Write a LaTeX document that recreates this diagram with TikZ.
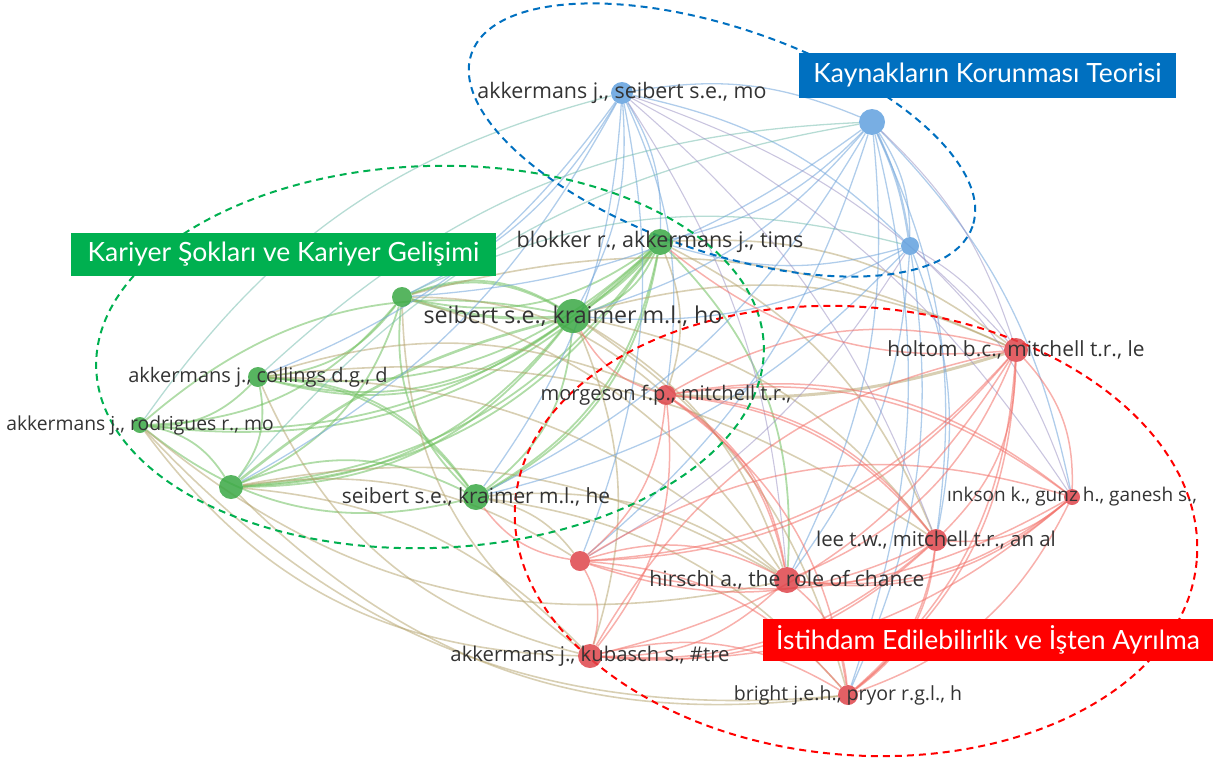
\documentclass[tikz,border=0pt]{standalone}
\usepackage{fontspec}
\setmainfont{Open Sans}
\newfontfamily\boxfont{Lato}
\usetikzlibrary{backgrounds}

\definecolor{gnode}{RGB}{58,168,68}
\definecolor{rnode}{RGB}{222,68,74}
\definecolor{bnode}{RGB}{96,160,222}
\definecolor{gline}{RGB}{112,192,96}
\definecolor{rline}{RGB}{242,112,104}
\definecolor{bline}{RGB}{112,164,218}
\definecolor{oline}{RGB}{178,160,104}
\definecolor{pline}{RGB}{150,140,192}
\definecolor{tline}{RGB}{110,185,170}
\definecolor{txtgray}{RGB}{51,51,51}
\definecolor{boxblue}{RGB}{0,112,192}
\definecolor{boxgreen}{RGB}{0,176,80}
\definecolor{boxred}{RGB}{255,0,0}

\tikzset{
    gdot/.style={circle, inner sep=0pt, fill=gnode, fill opacity=.85, minimum size=#1},
    rdot/.style={circle, inner sep=0pt, fill=rnode, fill opacity=.85, minimum size=#1},
    bdot/.style={circle, inner sep=0pt, fill=bnode, fill opacity=.85, minimum size=#1},
    lbl/.style={text=txtgray, inner sep=0pt, font=\fontsize{#1}{24}\selectfont},
    lbl/.default=20.5,
    ge/.style={gline, line width=1.8pt, opacity=.55},
    re/.style={rline, line width=1.5pt, opacity=.55},
    be/.style={bline, line width=1.3pt, opacity=.55},
    oe/.style={oline, line width=1.6pt, opacity=.5},
    pe/.style={pline, line width=1.1pt, opacity=.5},
    te/.style={tline, line width=1.3pt, opacity=.5},
    cluster/.style={dash pattern=on 7pt off 5pt, line width=2pt},
    tagbox/.style={text=white, inner sep=0pt, font=\boxfont\fontsize{26.5}{30}\selectfont},
}

\begin{document}
\begin{tikzpicture}[x=1pt, y=-1pt]
    \useasboundingbox (0,0) rectangle (1213,758);

    % kümeler
    \draw [cluster, boxblue, rotate around={-19:(722,140)}]
        (722,140) ellipse [x radius=265, y radius=112];
    \draw [cluster, boxgreen, rotate around={2:(430,357)}]
        (430,357) ellipse [x radius=334, y radius=191];
    \draw [cluster, boxred, rotate around={-5:(856,531)}]
        (856,531) ellipse [x radius=342, y radius=224];

    % mavi
    \node [bdot=22, label={[lbl=21.4]center:akkermans j., seibert s.e., mo}] (a1) at (622,93) {};
    \node [bdot=26] (b2) at (872,122) {};
    \node [bdot=18] (b3) at (910,246) {};
    % yeşil
    \node [gdot=26, label={[lbl=21.5]center:blokker r., akkermans j., tims}] (g1) at (660,242) {};
    \node [gdot=20] (g2) at (402,297) {};
    \node [gdot=34, label={[lbl=23.2]center:seibert s.e., kraimer m.l., ho}] (g3) at (573,316) {};
    \node [gdot=20, label={[lbl=20]center:akkermans j., collings d.g., d}] (g4) at (258,377) {};
    \node [gdot=16, label={[lbl=19.3]center:akkermans j., rodrigues r., mo}] (g5) at (140,425) {};
    \node [gdot=24] (g6) at (231,487) {};
    \node [gdot=26, label={[lbl=20.9]center:seibert s.e., kraimer m.l., he}] (g7) at (476,497) {};
    % kırmızı
    \node [rdot=20, label={[lbl=20.1]center:morgeson f.p., mitchell t.r.,}] (r1) at (666,395) {};
    \node [rdot=24, label={[lbl=20.9]center:holtom b.c., mitchell t.r., le}] (r2) at (1016,350) {};
    \node [rdot=16, label={[lbl=19]center:ınkson k., gunz h., ganesh s.,}] (r3) at (1072,497) {};
    \node [rdot=22, label={[lbl=20.4]center:lee t.w., mitchell t.r., an al}] (r4) at (936,540) {};
    \node [rdot=20] (r5) at (580,561) {};
    \node [rdot=26, label={[lbl=21.1]center:hirschi a., the role of chance}] (r6) at (787,580) {};
    \node [rdot=24, label={[lbl=20.3]center:akkermans j., kubasch s., \#tre}] (r7) at (590,656) {};
    \node [rdot=20, label={[lbl=19.5]center:bright j.e.h., pryor r.g.l., h}] (r8) at (848,695) {};

    \begin{scope}[on background layer]
        %% bağlantılar
        \foreach \a/\b in {g1/g2, g1/g3, g1/g4, g1/g6, g1/g7, g2/g3, g2/g4, g2/g5, g2/g6,
                g3/g4, g3/g6, g3/g7, g4/g5, g4/g6, g4/g7, g5/g6, g6/g7, g1/r6, g1/g5} {
            \draw [ge] (\a) to [bend left=24] (\b);
        }
        \foreach \a/\b in {g2/g7, g3/g5, g5/g7, g6/g1, g4/g3, g7/g1, g5/g1, g6/g3, g3/g2, g7/g4} {
            \draw [ge] (\a) to [bend right=26] (\b);
        }
        \draw [ge, line width=3pt] (g3) to [bend right=8] (g1);
        \draw [ge, line width=3pt] (g3) to [bend left=10] (g2);
        \draw [ge, line width=2.6pt] (g6) to [bend left=12] (g3);
        \foreach \a/\b in {g3/r2, g2/r2, g4/r1, g6/r5, g6/r7, g7/r6, g3/r6, g1/r4, g2/r6, g4/r6,
                g7/r5, g1/r1, g1/r2, g3/r4, g3/r8, g7/r8, g6/r6, g2/r1, g4/r4, g3/r7} {
            \draw [oe] (\a) to [bend left=20] (\b);
        }
        \foreach \a/\b in {g5/r8, g6/r8, g4/r7, g5/r7, g5/r6, g2/r7} {
            \draw [oe] (\a) to [bend right=26] (\b);
        }
        \draw [oe, line width=3pt] (r1) to [bend right=10] (r2);
        \foreach \a/\b in {a1/b2, a1/b3, b2/b3, a1/g1, a1/g3, a1/g7, a1/g2, a1/g6, a1/r1, a1/r5,
                b2/g1, b2/g3, b2/g7, b2/r4, b2/r6, b2/r8, b2/r3, b3/g1, b3/g3, b3/r4, b3/r6, b3/r8,
                b2/g2, a1/g4, b3/g7, b2/r5} {
            \draw [be] (\a) to [bend left=16] (\b);
        }
        \draw [be, line width=2.4pt] (b2) to [bend left=8] (b3);
        \foreach \a/\b in {b2/g4, b2/g6, a1/g5, b3/g2} {
            \draw [te] (\a) to [bend right=20] (\b);
        }
        \foreach \a/\b in {a1/r2, b2/r2, b3/r3, a1/r4, b3/r5, a1/r6, b3/r2, a1/r3} {
            \draw [pe] (\a) to [bend left=14] (\b);
        }
        \foreach \a/\b in {r1/r2, r1/r4, r1/r5, r1/r6, r1/r7, r1/r8, r1/r3, r2/r3, r2/r4, r2/r5,
                r2/r6, r2/r7, r2/r8, r3/r4, r3/r6, r3/r7, r3/r8, r4/r5, r4/r6, r4/r7, r4/r8,
                r5/r6, r5/r7, r5/r8, r6/r7, r6/r8, r7/r8, r3/r5, r1/g3, r5/g7, r2/g1} {
            \draw [re] (\a) to [bend left=22] (\b);
        }
        \foreach \a/\b in {r2/r7, r3/r5, r4/r1, r8/r4, r6/r3, r5/r2, r6/r1, r8/r2, r7/r4, r3/r1} {
            \draw [re] (\a) to [bend right=24] (\b);
        }
    \end{scope}

    % etiketler
    \fill [boxblue] (799,53) rectangle (1176,98);
    \node [tagbox] (tb) at (987.5,75.5) {Kaynakların Korunması Teorisi};
    \fill [boxgreen] (71,233) rectangle (496,276);
    \node [tagbox] (tg) at (283.5,254.5) {Kariyer Şokları ve Kariyer Gelişimi};
    \fill [boxred] (763,619) rectangle (1213,661);
    \node [tagbox] (tr) at (988,640) {İstihdam Edilebilirlik ve İşten Ayrılma};
\end{tikzpicture}
\end{document}
